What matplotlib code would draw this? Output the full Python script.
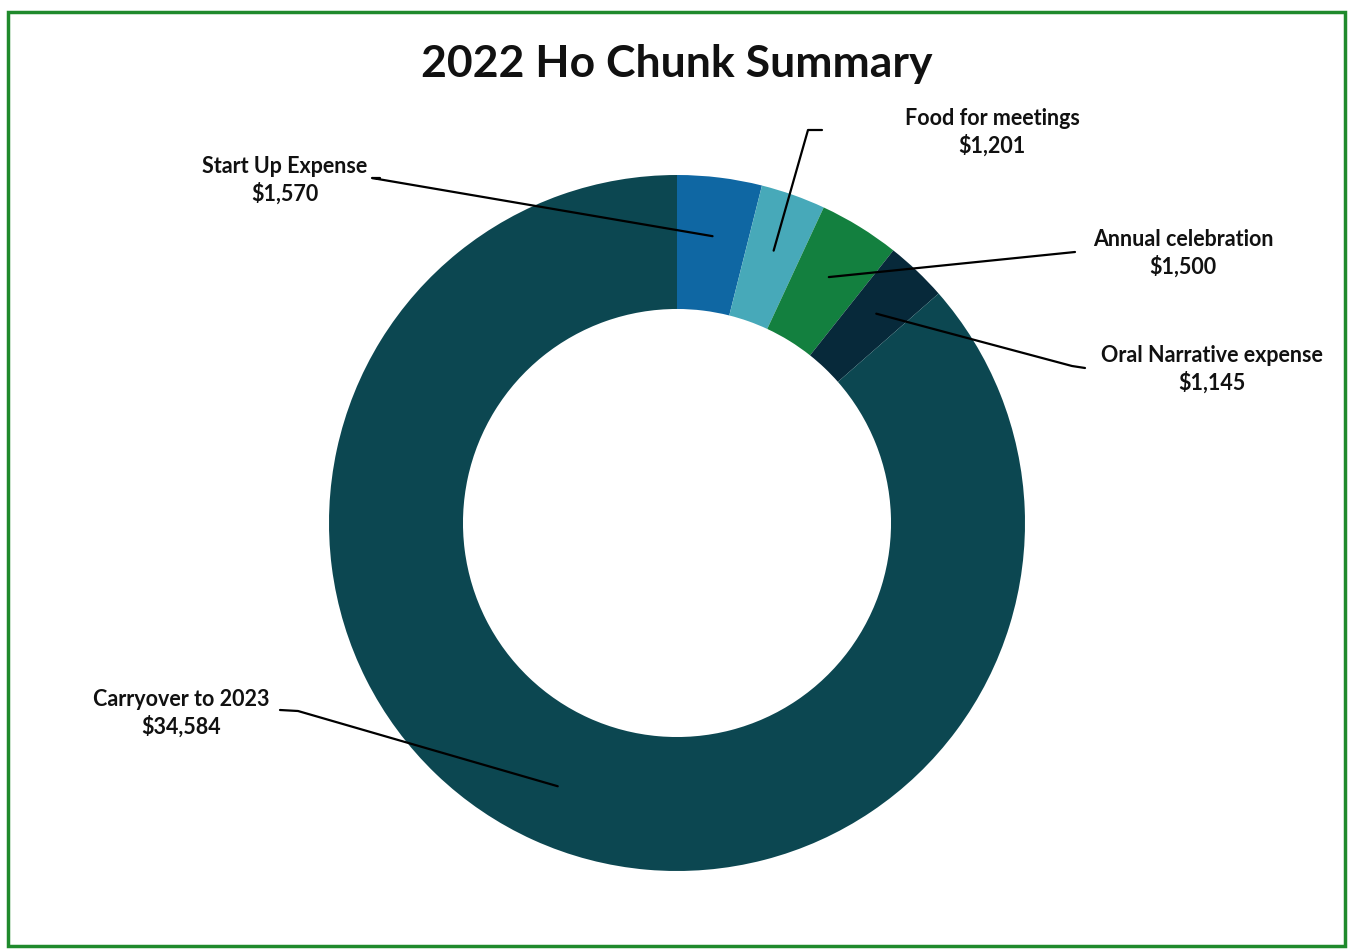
import numpy as np
import matplotlib.pyplot as plt
from matplotlib.patches import Rectangle

# %% data
labels = ['Start Up Expense', 'Food for meetings', 'Annual celebration',
          'Oral Narrative expense', 'Carryover to 2023']
values = [1570, 1201, 1500, 1145, 34584]
colors = ['#0f67a3', '#47a9b9', '#13803f', '#07293a', '#0c4751']

# label placement (pixels, top-left origin) and elbow of leader line
text_pos = [(285, 180), (992, 132), (1183, 253), (1212, 369), (181, 713)]
line_start = [(380, 178), (822, 130), (1075, 252), (1085, 368), (280, 710)]
line_elbow = [(372, 178), (808, 130), (1075, 252), (1072, 366), (298, 711)]

plt.rcParams['font.family'] = ['Lato', 'DejaVu Sans']

W, H = 1348, 949
fig = plt.figure(figsize=(W / 100, H / 100), dpi=100)
ax = fig.add_axes([0, 0, 1, 1])
ax.set_xlim(0, W)
ax.set_ylim(0, H)
ax.set_aspect('equal')
ax.axis('off')

cx, cy, R = 677, H - 523, 348
wedges, _ = ax.pie(values, colors=colors, startangle=90, counterclock=False,
                   center=(cx, cy), radius=R,
                   wedgeprops=dict(width=R * 0.385, linewidth=0))
ax.set_xlim(0, W)
ax.set_ylim(0, H)

# leader lines
for w, lab, v, tp, ls, le in zip(wedges, labels, values, text_pos, line_start, line_elbow):
    ang = np.deg2rad((w.theta1 + w.theta2) / 2)
    r = R - R * 0.385 / 2 + 8
    px, py = cx + r * np.cos(ang), cy + r * np.sin(ang)
    ax.plot([ls[0], le[0], px], [H - ls[1], H - le[1], py], color='black', lw=1.6,
            solid_capstyle='round')
    ax.text(tp[0], H - tp[1], f'{lab}\n${v:,}', ha='center', va='center',
            fontsize=15.5, fontweight='bold', color='#111111', linespacing=1.3)

ax.text(677, H - 64, '2022 Ho Chunk Summary', ha='center', va='center',
        fontsize=32, fontweight='bold', color='#111111')

# green frame
ax.add_patch(Rectangle((8, 3), 1337, H - 15, fill=False, edgecolor='#1f8a2c', lw=2.5))

fig.savefig('out.png', dpi=100)
